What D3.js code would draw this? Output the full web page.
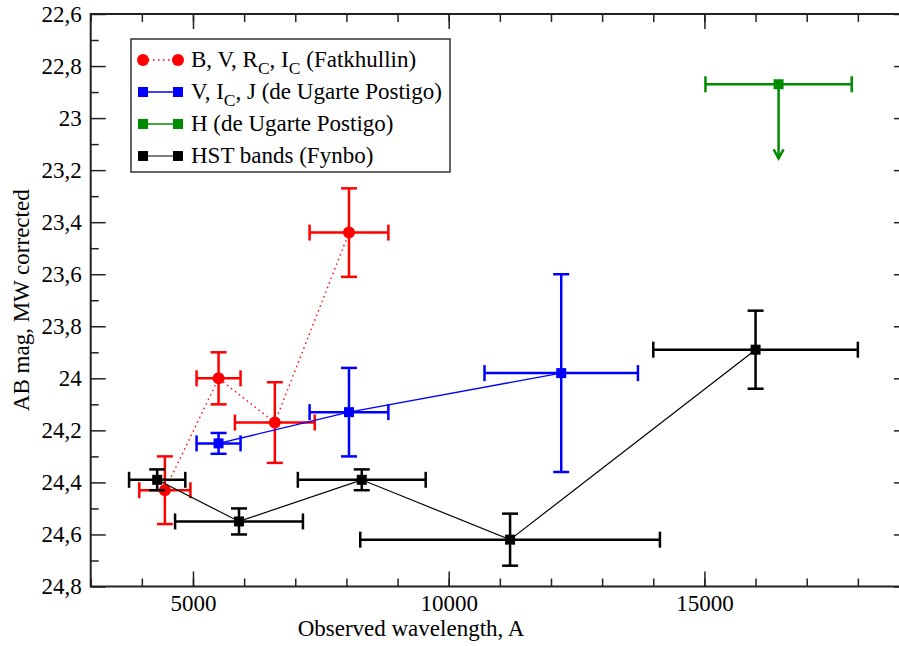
<!DOCTYPE html>
<html lang="en">
<head>
    <meta charset="UTF-8">
    <title>AB magnitude vs observed wavelength</title>
    <script src="https://d3js.org/d3.v7.min.js"></script>
    <style>
        body {
            margin: 0;
            background: #fff;
        }
        svg text {
            font-family: "Liberation Serif", "Tinos", "Times New Roman", "DejaVu Serif", serif;
            font-size: 23px;
            fill: #000;
        }
    </style>
</head>
<body>
    <svg id="chart" width="899" height="646"></svg>

    <script>
        // Fatkhullin: B, V, Rc, Ic
        const fatX = [4450, 5500, 6600, 8050];
        const fatXErr = [500, 430, 780, 770];
        const fatY = [24.43, 24.0, 24.17, 23.44];
        const fatYErr = [0.13, 0.10, 0.155, 0.17];

        // de Ugarte Postigo: V, Ic, J
        const ugX = [5500, 8050, 12200];
        const ugXErr = [430, 770, 1500];
        const ugY = [24.25, 24.13, 23.98];
        const ugYErr = [0.04, 0.17, 0.38];

        // de Ugarte Postigo: H (upper limit)
        const hX = [16450];
        const hXErr = [1430];
        const hY = [22.87];
        const hLimitTo = [23.155];

        // HST bands (Fynbo)
        const hstX = [4300, 5900, 8300, 11200, 16000];
        const hstXErr = [550, 1250, 1250, 2930, 2000];
        const hstY = [24.39, 24.55, 24.39, 24.62, 23.89];
        const hstYErr = [0.04, 0.05, 0.04, 0.10, 0.15];

        const xTicks = [5000, 10000, 15000];
        const xMinor = d3.range(3000, 19001, 1000);
        const yTicks = [22.6, 22.8, 23, 23.2, 23.4, 23.6, 23.8, 24, 24.2, 24.4, 24.6, 24.8];
        const yTickLabels = ["22,6", "22,8", "23", "23,2", "23,4", "23,6", "23,8", "24", "24,2", "24,4", "24,6", "24,8"];
        const yMinor = [22.7, 22.9, 23.1, 23.3, 23.5, 23.7, 23.9, 24.1, 24.3, 24.5, 24.7];

        const plotLeft = 90.7, plotRight = 909, plotTop = 14, plotBottom = 586.5;

        const svg = d3.select("#chart");

        const x = d3.scaleLinear().domain([3000, 19000]).range([plotLeft, plotRight]);
        const y = d3.scaleLinear().domain([22.6, 24.8]).range([plotTop, plotBottom]);

        // axes (ticks pointing inward)
        const axisStyle = g => {
            g.attr("font-family", null).attr("font-size", null);
            g.select(".domain").remove();
            g.selectAll(".tick line").attr("stroke", "#222").attr("stroke-width", 1.5);
            g.selectAll("text").attr("fill", "#000");
        };

        svg.append("g")
            .attr("transform", `translate(0,${plotBottom})`)
            .call(d3.axisBottom(x).tickValues(xMinor).tickSize(-8).tickFormat(""))
            .call(axisStyle);
        svg.append("g")
            .attr("transform", `translate(0,${plotBottom})`)
            .call(d3.axisBottom(x).tickValues(xTicks).tickSize(-15).tickPadding(8).tickFormat(d3.format("d")))
            .call(axisStyle);
        svg.append("g")
            .attr("transform", `translate(0,${plotTop})`)
            .call(d3.axisTop(x).tickValues(xMinor).tickSize(-8).tickFormat(""))
            .call(axisStyle);
        svg.append("g")
            .attr("transform", `translate(0,${plotTop})`)
            .call(d3.axisTop(x).tickValues(xTicks).tickSize(-15).tickFormat(""))
            .call(axisStyle);

        svg.append("g")
            .attr("transform", `translate(${plotLeft},0)`)
            .call(d3.axisLeft(y).tickValues(yMinor).tickSize(-8).tickFormat(""))
            .call(axisStyle);
        svg.append("g")
            .attr("transform", `translate(${plotLeft},0)`)
            .call(d3.axisLeft(y).tickValues(yTicks).tickSize(-15).tickPadding(9)
                .tickFormat((d, i) => yTickLabels[i]))
            .call(axisStyle);
        svg.append("g")
            .attr("transform", `translate(${plotRight},0)`)
            .call(d3.axisRight(y).tickValues(yTicks).tickSize(-15).tickFormat(""))
            .call(axisStyle);

        svg.append("rect")
            .attr("x", plotLeft).attr("y", plotTop)
            .attr("width", plotRight - plotLeft).attr("height", plotBottom - plotTop)
            .attr("fill", "none").attr("stroke", "#222").attr("stroke-width", 2);

        svg.append("text")
            .attr("x", 411).attr("y", 636)
            .attr("text-anchor", "middle")
            .text("Observed wavelength, A");

        svg.append("text")
            .attr("transform", `translate(29,${(plotTop + plotBottom) / 2}) rotate(-90)`)
            .attr("text-anchor", "middle")
            .text("AB mag, MW corrected");

        const series = [
            { xs: fatX, xe: fatXErr, ys: fatY, ye: fatYErr, color: "#ff0000", marker: "circle", dash: "1.5,3.5", lw: 1.4 },
            { xs: ugX, xe: ugXErr, ys: ugY, ye: ugYErr, color: "#0000ff", marker: "square", dash: null, lw: 1.4 },
            { xs: hX, xe: hXErr, ys: hY, ye: null, color: "#008c00", marker: "square", dash: null, lw: 1.4, limit: hLimitTo },
            { xs: hstX, xe: hstXErr, ys: hstY, ye: hstYErr, color: "#000000", marker: "square", dash: null, lw: 1.2 }
        ];

        const cap = 8;
        const line = d3.line().x(d => x(d[0])).y(d => y(d[1]));

        series.forEach(s => {
            const pts = s.xs.map((v, i) => [v, s.ys[i], s.xe[i], s.ye ? s.ye[i] : 0]);
            const g = svg.append("g");

            if (pts.length > 1) {
                g.append("path")
                    .attr("d", line(pts))
                    .attr("fill", "none")
                    .attr("stroke", s.color)
                    .attr("stroke-width", s.lw)
                    .attr("stroke-dasharray", s.dash);
            }

            pts.forEach(p => {
                const cx = x(p[0]), cy = y(p[1]);
                const x0 = x(p[0] - p[2]), x1 = x(p[0] + p[2]);
                const segs = [
                    [x0, cy, x1, cy],
                    [x0, cy - cap, x0, cy + cap],
                    [x1, cy - cap, x1, cy + cap]
                ];
                if (s.ye) {
                    const y0 = y(p[1] - p[3]), y1 = y(p[1] + p[3]);
                    segs.push([cx, y0, cx, y1], [cx - cap, y0, cx + cap, y0], [cx - cap, y1, cx + cap, y1]);
                }
                g.selectAll(null).data(segs).enter().append("line")
                    .attr("x1", d => d[0]).attr("y1", d => d[1])
                    .attr("x2", d => d[2]).attr("y2", d => d[3])
                    .attr("stroke", s.color)
                    .attr("stroke-width", 2.5);
            });

            if (s.limit) {
                pts.forEach((p, i) => {
                    const cx = x(p[0]), ya = y(s.limit[i]);
                    g.append("line")
                        .attr("x1", cx).attr("y1", y(p[1]))
                        .attr("x2", cx).attr("y2", ya)
                        .attr("stroke", s.color).attr("stroke-width", 2.5);
                    g.append("path")
                        .attr("d", `M${cx - 5},${ya - 9}L${cx},${ya}L${cx + 5},${ya - 9}`)
                        .attr("fill", "none").attr("stroke", s.color).attr("stroke-width", 2.5);
                });
            }

            if (s.marker === "circle") {
                g.selectAll(null).data(pts).enter().append("circle")
                    .attr("cx", d => x(d[0])).attr("cy", d => y(d[1]))
                    .attr("r", 6).attr("fill", s.color);
            } else {
                g.selectAll(null).data(pts).enter().append("rect")
                    .attr("x", d => x(d[0]) - 5).attr("y", d => y(d[1]) - 5)
                    .attr("width", 10).attr("height", 10).attr("fill", s.color);
            }
        });

        // legend
        const legendParts = [
            [["B, V, R", 0], ["C", 1], [", I", 0], ["C", 1], [" (Fatkhullin)", 0]],
            [["V, I", 0], ["C", 1], [", J (de Ugarte Postigo)", 0]],
            [["H (de Ugarte Postigo)", 0]],
            [["HST bands (Fynbo)", 0]]
        ];

        const legend = svg.append("g");
        legend.append("rect")
            .attr("x", 131).attr("y", 39).attr("width", 319).attr("height", 133)
            .attr("fill", "#fff").attr("stroke", "#333").attr("stroke-width", 1.5);

        series.forEach((s, i) => {
            const cy = 60 + i * 32;
            const row = legend.append("g");
            row.append("line")
                .attr("x1", 143).attr("x2", 178).attr("y1", cy).attr("y2", cy)
                .attr("stroke", s.color).attr("stroke-width", s.lw)
                .attr("stroke-dasharray", s.dash);
            [143, 178].forEach(mx => {
                if (s.marker === "circle") {
                    row.append("circle").attr("cx", mx).attr("cy", cy).attr("r", 6).attr("fill", s.color);
                } else {
                    row.append("rect").attr("x", mx - 5).attr("y", cy - 5)
                        .attr("width", 10).attr("height", 10).attr("fill", s.color);
                }
            });
            const t = row.append("text").attr("x", 191).attr("y", cy + 7);
            let shifted = false;
            legendParts[i].forEach(([txt, sub]) => {
                const ts = t.append("tspan").text(txt);
                if (sub) {
                    ts.style("font-size", "17.5px").attr("dy", 7);
                    shifted = true;
                } else if (shifted) {
                    ts.attr("dy", -7);
                    shifted = false;
                }
            });
        });
    </script>
</body>
</html>
